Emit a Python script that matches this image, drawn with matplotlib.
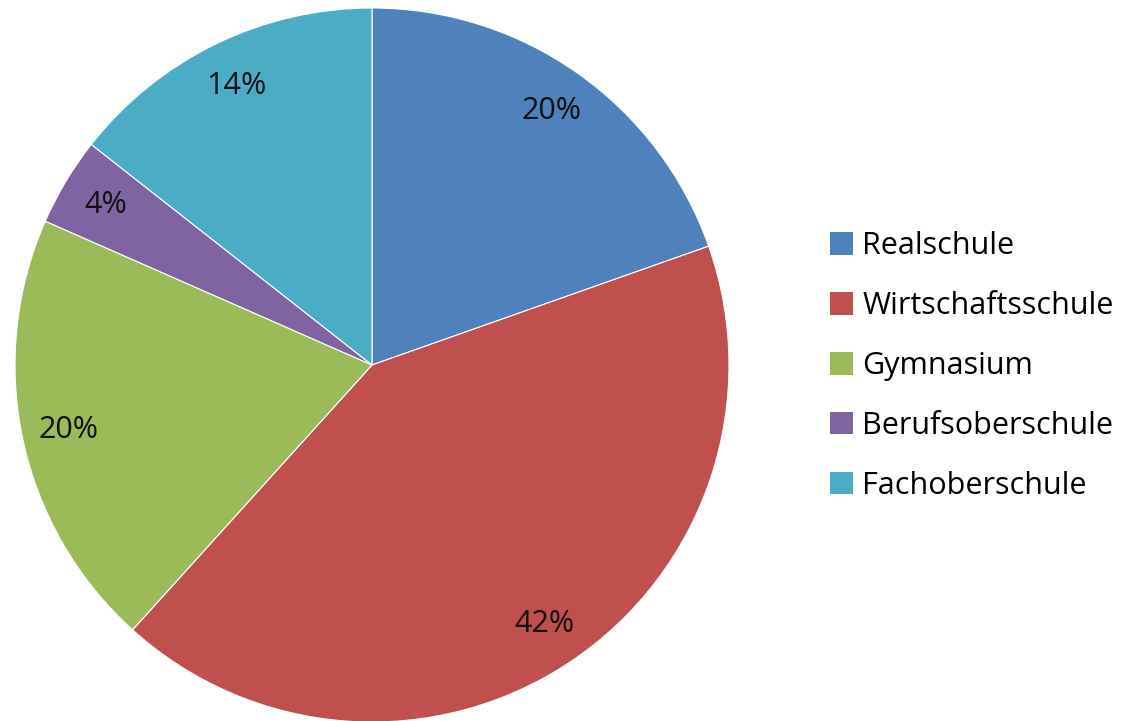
import matplotlib.pyplot as plt
from matplotlib.patches import Patch

schulen = ['Realschule', 'Wirtschaftsschule', 'Gymnasium', 'Berufsoberschule', 'Fachoberschule']
anteile = [19.6, 42.1, 19.9, 4.0, 14.4]
farben = ['#4F81BD', '#C0504D', '#9BBB59', '#8064A2', '#4BACC6']

plt.rcParams['font.family'] = ['Open Sans', 'DejaVu Sans']

fig = plt.figure(figsize=(11.45, 7.21), dpi=100)
ax = fig.add_axes([15 / 1145, (356 - 357) / 721, 714 / 1145, 714 / 721])

wedges, _, autotexts = ax.pie(anteile, colors=farben, startangle=90, counterclock=False,
                              autopct='%1.0f%%', pctdistance=0.87, radius=1,
                              wedgeprops={'edgecolor': 'white', 'linewidth': 0.8},
                              textprops={'fontsize': 22, 'color': '#111111'})
ax.set_xlim(-1, 1)
ax.set_ylim(-1, 1)
ax.set_aspect('auto')
ax.axis('off')

handles = [Patch(facecolor=c, edgecolor='none') for c in farben]
fig.legend(handles, schulen, loc='center left', bbox_to_anchor=(815 / 1145, 1 - 366 / 721),
           frameon=False, fontsize=22, handlelength=0.75, handleheight=0.75,
           handletextpad=0.3, labelspacing=0.98, borderpad=0)

fig.savefig('out.png', dpi=100)
